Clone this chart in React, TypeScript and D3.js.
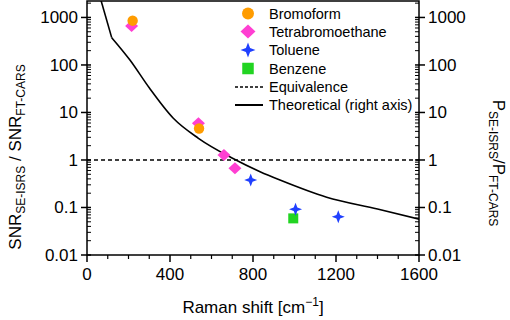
import React from "react";
import * as d3 from "d3";

const bromoformX = [220, 540];
const bromoformY = [855, 4.6];
const tetraX = [215, 537, 660, 713];
const tetraY = [660, 5.9, 1.27, 0.67];
const tolueneX = [789, 1005, 1211];
const tolueneY = [0.38, 0.092, 0.064];
const benzeneX = [994];
const benzeneY = [0.059];
const theoX = [67, 119, 207, 300, 416, 537, 699, 834, 930, 1155, 1400, 1605];
const theoY = [2330, 376, 127, 33, 7.55, 2.86, 1.1, 0.567, 0.379, 0.165, 0.093, 0.056];
const xTicks = [0, 400, 800, 1200, 1600];
const yTicks = [0.01, 0.1, 1, 10, 100, 1000];
const yTickLabels = ["0.01", "0.1", "1", "10", "100", "1000"];
const legendLabels = ["Bromoform", "Tetrabromoethane", "Toluene", "Benzene", "Equivalence", "Theoretical (right axis)"];

const COLORS = { orange: "#ff9c00", magenta: "#ff3fd2", blue: "#2040ff", green: "#22d422" };
const FONT = "'Liberation Sans', Arial, sans-serif";

const starPath = (r: number) => {
  const k = r * 0.28;
  return `M0,${-r}L${k},${-k}L${r},0L${k},${k}L0,${r}L${-k},${k}L${-r},0L${-k},${-k}Z`;
};
const diamondPath = (w: number, h: number) => `M0,${-h}L${w},0L0,${h}L${-w},0Z`;

function Marker({ kind, x, y, big }: { kind: string; x: number; y: number; big?: boolean }) {
  const s = big ? 1.15 : 1;
  if (kind === "circle") return <circle cx={x} cy={y} r={5.2 * s} fill={COLORS.orange} />;
  if (kind === "diamond") return <path transform={`translate(${x},${y})`} d={diamondPath(6.5 * s, 6 * s)} fill={COLORS.magenta} />;
  if (kind === "star") return <path transform={`translate(${x},${y})`} d={starPath(6.5 * s)} fill={COLORS.blue} />;
  return <rect x={x - 5 * s} y={y - 5 * s} width={10 * s} height={10 * s} fill={COLORS.green} />;
}

export default function App() {
  const W = 510, H = 320;
  const x0 = 87, x1 = 419, yTop = 1, yBot = 255;
  const x = d3.scaleLinear().domain([0, 1600]).range([x0, x1]);
  const y = d3.scaleLog().domain([0.01, 2220]).range([yBot, yTop]);

  const minorY: number[] = [];
  for (let e = -2; e <= 3; e++) for (let m = 2; m <= 9; m++) {
    const v = m * Math.pow(10, e);
    if (v <= 2220) minorY.push(v);
  }
  const minorX = d3.range(100, 1600, 100).filter((v) => v % 400 !== 0);

  const pts: [number, number][] = theoX.map((v, i) => [x(v), y(theoY[i])]);
  const tailLine = d3.line().curve(d3.curveMonotoneX)(pts.slice(1)) || "";
  const sw = 1.5;
  const fs = 17;

  const legX = 248, legTX = 269;
  const legY = [13.5, 31.5, 50, 68.5, 87, 105];

  return (
    <svg width={W} height={H} style={{ position: "absolute", left: 0, top: 0 }} fontFamily={FONT}>
      <defs>
        <clipPath id="plot"><rect x={x0} y={yTop} width={x1 - x0} height={yBot - yTop} /></clipPath>
      </defs>
      <rect width={W} height={H} fill="#fff" />
      <line x1={x0} x2={x1} y1={y(1)} y2={y(1)} stroke="#000" strokeWidth={1.5} strokeDasharray="4,3" />
      <g clipPath="url(#plot)">
        <path d={d3.line()(pts.slice(0, 2)) || ""} fill="none" stroke="#000" strokeWidth={1.6} />
        <path d={tailLine} fill="none" stroke="#000" strokeWidth={1.6} />
      </g>
      {tetraX.map((v, i) => <Marker key={"t" + i} kind="diamond" x={x(v)} y={y(tetraY[i])} />)}
      {bromoformX.map((v, i) => <Marker key={"b" + i} kind="circle" x={x(v)} y={y(bromoformY[i])} />)}
      {benzeneX.map((v, i) => <Marker key={"z" + i} kind="square" x={x(v)} y={y(benzeneY[i])} />)}
      {tolueneX.map((v, i) => <Marker key={"l" + i} kind="star" x={x(v)} y={y(tolueneY[i])} />)}
      <rect x={x0} y={yTop} width={x1 - x0} height={yBot - yTop} fill="none" stroke="#000" strokeWidth={sw} />
      {minorY.map((v, i) => (
        <g key={"my" + i}>
          <line x1={x0} x2={x0 + 4} y1={y(v)} y2={y(v)} stroke="#000" strokeWidth={1} />
          <line x1={x1} x2={x1 - 4} y1={y(v)} y2={y(v)} stroke="#000" strokeWidth={1} />
        </g>
      ))}
      {yTicks.map((v, i) => (
        <g key={"y" + i}>
          <line x1={x0 - 6} x2={x0 + 4} y1={y(v)} y2={y(v)} stroke="#000" strokeWidth={sw} />
          <line x1={x1 - 4} x2={x1 + 6} y1={y(v)} y2={y(v)} stroke="#000" strokeWidth={sw} />
          <text x={x0 - 9} y={y(v)} dy="0.35em" textAnchor="end" fontSize={fs}>{yTickLabels[i]}</text>
          <text x={x1 + 9} y={y(v)} dy="0.35em" textAnchor="start" fontSize={fs}>{yTickLabels[i]}</text>
        </g>
      ))}
      {minorX.map((v, i) => (
        <line key={"mx" + i} x1={x(v)} x2={x(v)} y1={yBot} y2={yBot + 4} stroke="#000" strokeWidth={1.2} />
      ))}
      {xTicks.map((v, i) => (
        <g key={"x" + i}>
          <line x1={x(v)} x2={x(v)} y1={yBot} y2={yBot + 7} stroke="#000" strokeWidth={sw} />
          <text x={x(v)} y={yBot + 25} textAnchor="middle" fontSize={fs}>{v}</text>
        </g>
      ))}
      <text x={253} y={313} textAnchor="middle" fontSize={fs}>
        Raman shift [cm<tspan dy={-7} fontSize={12}>−1</tspan><tspan dy={7}>]</tspan>
      </text>
      <text transform="translate(21,157) rotate(-90)" textAnchor="middle" fontSize={fs}>
        SNR<tspan fontSize={12} dy={4}>SE-ISRS</tspan><tspan dy={-4}> / SNR</tspan><tspan fontSize={12} dy={4}>FT-CARS</tspan>
      </text>
      <text transform="translate(493,163) rotate(90)" textAnchor="middle" fontSize={fs}>
        P<tspan fontSize={12} dy={4}>SE-ISRS</tspan><tspan dy={-4}>/P</tspan><tspan fontSize={12} dy={4}>FT-CARS</tspan>
      </text>
      {["circle", "diamond", "star", "square"].map((k, i) => (
        <Marker key={"lg" + i} kind={k} x={legX} y={legY[i]} big />
      ))}
      <line x1={235} x2={263} y1={legY[4]} y2={legY[4]} stroke="#000" strokeWidth={1.5} strokeDasharray="3,2" />
      <line x1={235} x2={263} y1={legY[5]} y2={legY[5]} stroke="#000" strokeWidth={2} />
      {legendLabels.map((t, i) => (
        <text key={"lt" + i} x={legTX} y={legY[i]} dy="0.36em" fontSize={14.5}>{t}</text>
      ))}
    </svg>
  );
}
